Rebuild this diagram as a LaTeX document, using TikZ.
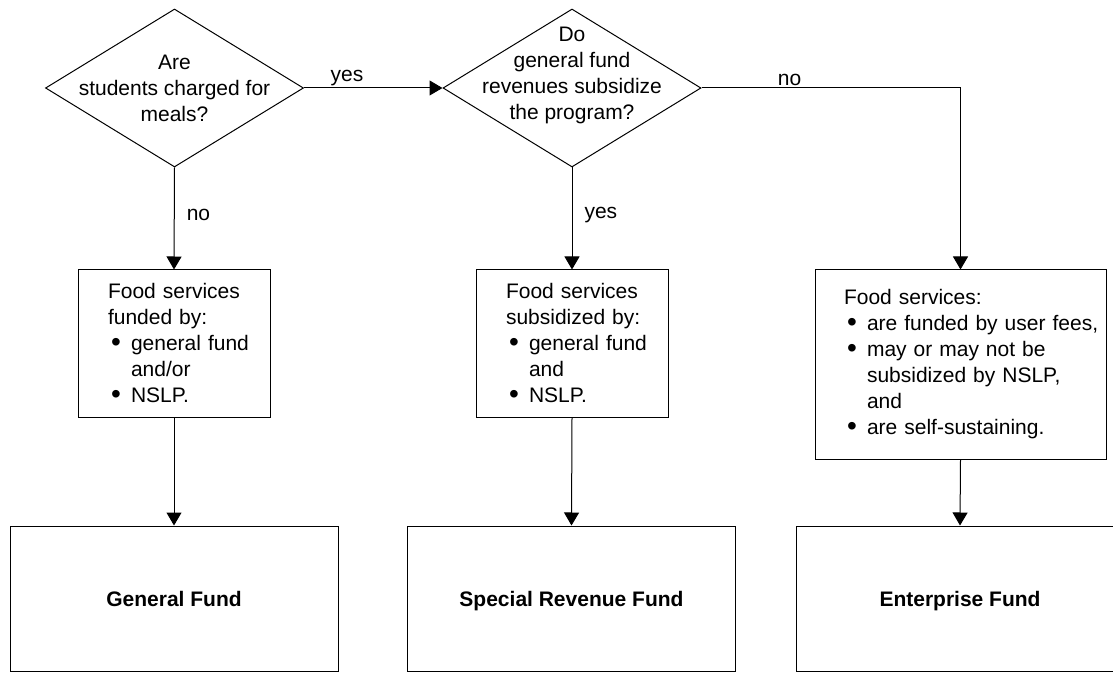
\documentclass[tikz,border=0pt]{standalone}
\usepackage{fontspec}
\setmainfont{Liberation Sans}
\usetikzlibrary{shapes.geometric,arrows.meta}
\newcommand{\txtsize}{\fontsize{10.5}{13}\selectfont}
% bullet line with hanging indent
\newcommand{\blt}{\par\hangindent=11.5pt\hangafter=1\noindent\makebox[11.5pt][l]{\hspace{1.5pt}\raisebox{-0.4pt}{\fontsize{14}{13}\selectfont\textbullet}}}
\tikzset{
  dia/.style={draw, diamond, inner sep=0pt, minimum width=129pt, minimum height=79pt},
  txtbox/.style={draw, rectangle, inner sep=0pt, text width=#1, font=\txtsize},
  fundbox/.style={draw, rectangle, minimum width=164pt, minimum height=72.5pt, text depth=0pt, font=\txtsize\bfseries},
  lbl/.style={font=\txtsize, inner sep=1pt}
}
\begin{document}
\begin{tikzpicture}[x=0.5pt, y=-0.5pt, line width=0.5pt, >={Triangle[length=6.5pt,width=7.5pt]}]
  \useasboundingbox (0,0) rectangle (1113,673);
  % questions
  \node[dia, label={[lbl, align=center]center:Are\\students charged for\\meals?}] (qchg) at (174.5,88) {};
  \node[dia, label={[lbl, align=center, yshift=6.5pt]center:Do\\general fund\\revenues subsidize\\the program?}] (qsub) at (572,88) {};
  % funding
  \node[txtbox=96pt, minimum height=73.5pt] (byfund) at (174,343.5)
    {\raggedright\leftskip=15pt Food services\newline funded by:\blt general fund\newline and/or\blt NSLP.\par};
  \node[txtbox=96pt, minimum height=73.5pt] (bysub) at (572,343.5)
    {\raggedright\leftskip=15pt Food services\newline subsidized by:\blt general fund\newline and\blt NSLP.\par};
  \node[txtbox=145.5pt, minimum height=94.5pt] (byfee) at (960.5,364.5)
    {\raggedright\leftskip=14.5pt Food services:\blt are funded by user fees,\blt may or may not be\newline subsidized by NSLP,\newline and\blt are self-sustaining.\par};
  % funds
  \node[fundbox] (gf) at (174,598.5) {General Fund};
  \node[fundbox] (srf) at (571.5,598.5) {Special Revenue Fund};
  \node[fundbox] (ef) at (960,598.5) {Enterprise Fund};

  \draw[->] (qchg.east) -- node[lbl, above, pos=.31] {yes} (qsub.west);
  \draw[->] (qchg.south) -- node[lbl, right=5pt, pos=.47] {no} (byfund.north);
  \draw[->] (qsub.south) -- node[lbl, right=5pt, pos=.47] {yes} (bysub.north);
  \draw[->] (qsub.east) -| node[lbl, above, pos=.17] {no} (byfee.north);
  \draw[->] (byfund.south) -- (gf.north);
  \draw[->] (bysub.south) -- (srf.north);
  \draw[->] (byfee.south) -- (ef.north);
\end{tikzpicture}
\end{document}
